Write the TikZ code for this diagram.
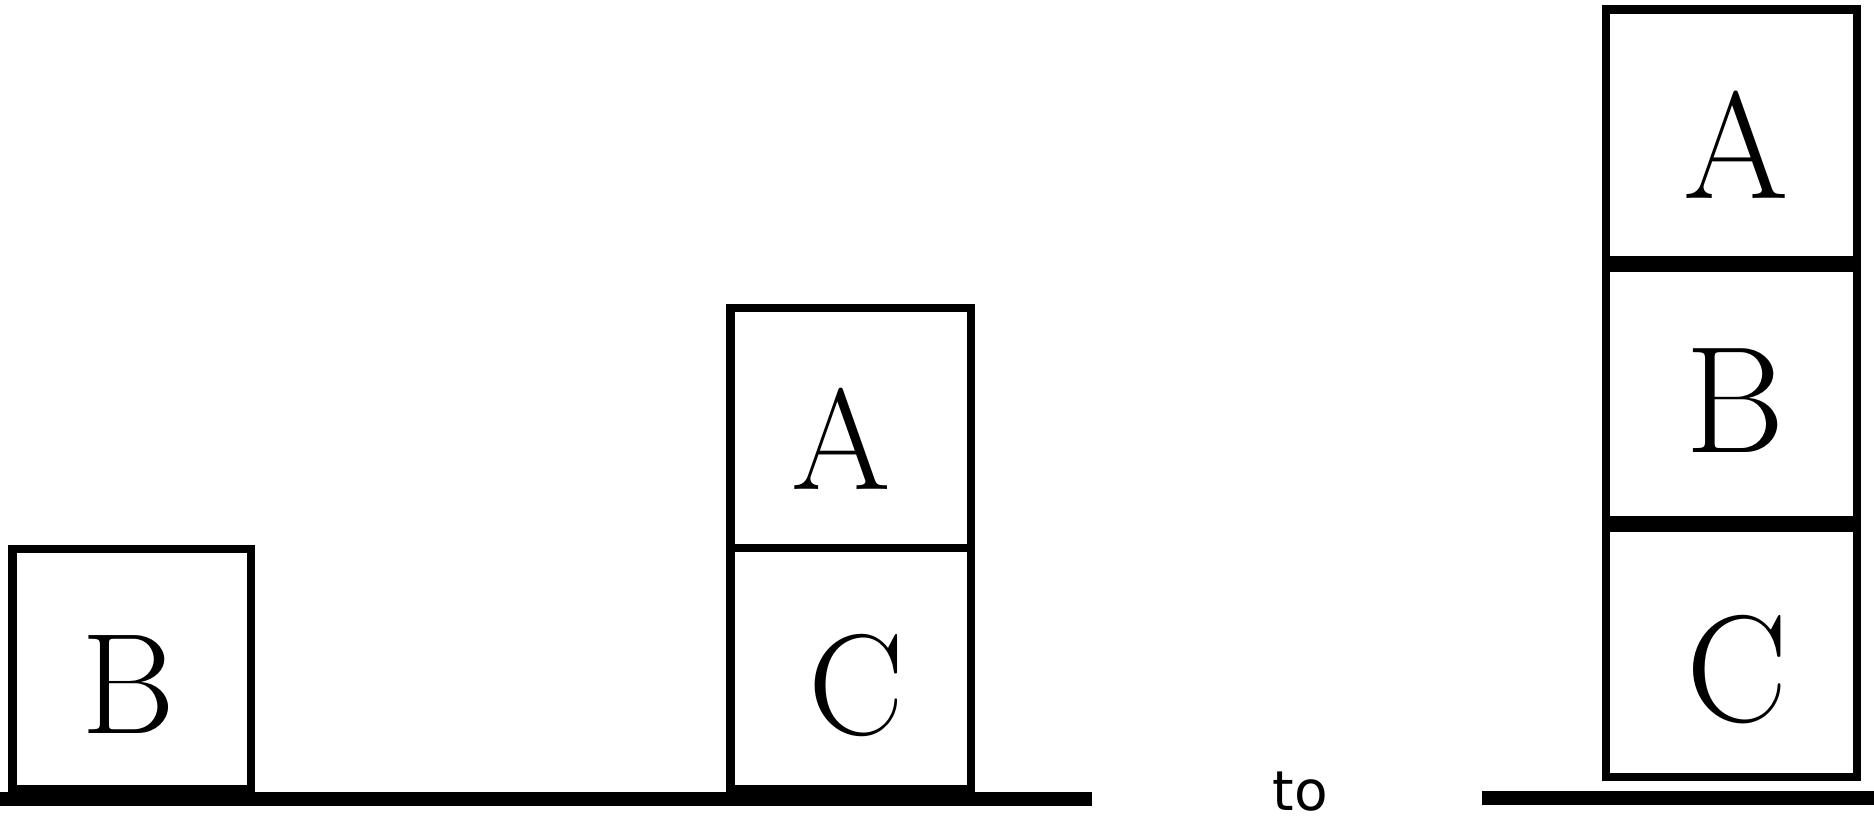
\documentclass[tikz,border=0pt]{standalone}
\usepackage{fontspec}
\newfontfamily\labelfont{DejaVu Sans}
\begin{document}
\begin{tikzpicture}[x=0.5pt,y=-0.5pt,
  block/.style={draw=black,line width=4.2pt,rectangle,inner sep=0pt,outer sep=0pt,fill=none},
  smallletter/.style={inner sep=0pt,outer sep=0pt,font=\rmfamily\fontsize{71.7}{78}\selectfont},
  bigletter/.style={inner sep=0pt,outer sep=0pt,font=\rmfamily\fontsize{76}{82}\selectfont},
  ground/.style={line width=7pt,line cap=butt}]
\useasboundingbox (0,0) rectangle (1874,821);
% left scene
\coordinate (g1w) at (0,799);
\coordinate (g1e) at (1092,799);
\draw[ground] (g1w) -- (g1e);
\node[block,minimum width=119.25pt,minimum height=120pt] (boxB) at (131.75,669) {};
\node[smallletter] (letB) at (128,685) {B};
\node[block,minimum width=120.25pt,minimum height=120.5pt] (boxC) at (850.75,668.5) {};
\node[block,minimum width=120.25pt,minimum height=120pt] (boxA) at (850.75,428) {};
\node[smallletter] (letA) at (841,439) {A};
\node[smallletter] (letC) at (856,686) {C};
% to
\node[inner sep=0pt,outer sep=0pt,anchor=base,font=\labelfont\fontsize{27.5}{30}\selectfont] (to) at (1300.5,810) {to};
% right scene
\coordinate (g2w) at (1482,798);
\coordinate (g2e) at (1874,798);
\draw[ground] (g2w) -- (g2e);
\node[block,minimum width=125.5pt,minimum height=125.25pt] (rA) at (1731.5,134.75) {};
\node[block,minimum width=125.5pt,minimum height=126pt] (rB) at (1731.5,394) {};
\node[block,minimum width=125.5pt,minimum height=124.5pt] (rC) at (1731.5,652.5) {};
\node[bigletter] (rletA) at (1736,145) {A};
\node[bigletter] (rletB) at (1735,401) {B};
\node[bigletter] (rletC) at (1737,670) {C};
\end{tikzpicture}
\end{document}
